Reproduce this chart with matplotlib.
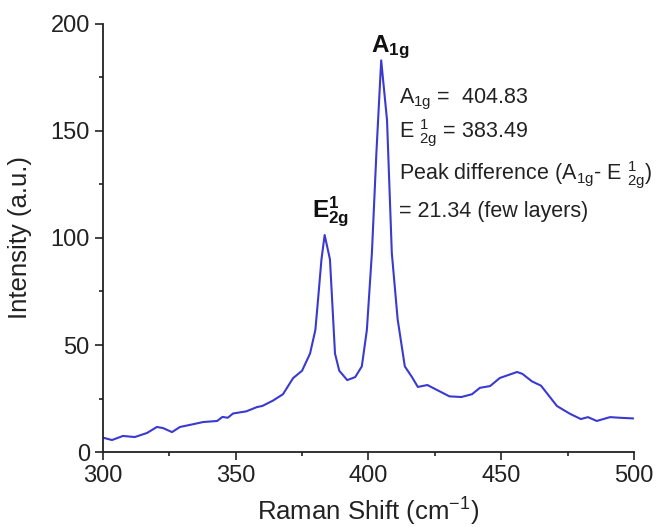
import numpy as np
import matplotlib
matplotlib.use("Agg")
import matplotlib.pyplot as plt
from matplotlib.ticker import MultipleLocator

plt.rcParams['font.family'] = ['Liberation Sans', 'DejaVu Sans']
plt.rcParams['mathtext.fontset'] = 'custom'
plt.rcParams['mathtext.rm'] = 'Liberation Sans'
plt.rcParams['mathtext.it'] = 'Liberation Sans:italic'
plt.rcParams['mathtext.bf'] = 'Liberation Sans:bold'
plt.rcParams['mathtext.default'] = 'regular'

# Raman spectrum
shift = [300.0, 303.4, 307.5, 312.0, 316.6, 320.3, 322.6, 326.0, 329.0, 334.0,
         337.7, 343.0, 345.0, 347.0, 349.0, 354.0, 358.0, 360.0, 364.0, 367.8,
         371.6, 375.0, 378.0, 380.0, 381.0, 382.3, 383.5, 385.5, 387.4, 389.0,
         392.0, 395.0, 397.5, 399.4, 401.3, 403.0, 404.8, 407.0, 408.8, 411.0,
         413.7, 416.4, 418.6, 422.2, 425.8, 430.5, 435.0, 439.0, 442.0, 445.8,
         449.5, 456.0, 458.0, 461.6, 465.0, 471.0, 473.0, 476.0, 480.0, 482.7,
         486.0, 491.0, 494.7, 499.6]
intensity = [6.7, 5.6, 7.5, 7.0, 8.9, 11.7, 11.2, 9.3, 11.7, 13.0,
             14.0, 14.5, 16.4, 16.0, 18.0, 19.0, 21.0, 21.5, 24.0, 27.0,
             34.5, 38.0, 46.0, 57.0, 71.0, 90.0, 101.4, 90.0, 46.0, 38.0,
             33.6, 35.0, 40.0, 57.0, 93.0, 140.0, 183.0, 155.0, 93.0, 62.0,
             40.0, 35.0, 30.4, 31.3, 29.0, 26.0, 25.7, 27.0, 30.0, 30.8,
             34.6, 37.4, 36.5, 33.0, 31.0, 21.5, 20.0, 17.8, 15.4, 16.3,
             14.5, 16.3, 16.0, 15.7]

peak_a1g = 404.83
peak_e2g = 383.49
peak_diff = 21.34

fig = plt.figure(figsize=(6.67, 5.27), dpi=100)
ax = fig.add_axes([0.1544, 0.1423, 0.796, 0.8122])

ax.plot(shift, intensity, color='#3a3ad0', lw=1.5)

ax.set_xlim(300, 500)
ax.set_ylim(0, 200)
ax.xaxis.set_major_locator(MultipleLocator(50))
ax.xaxis.set_minor_locator(MultipleLocator(25))
ax.yaxis.set_major_locator(MultipleLocator(50))
ax.yaxis.set_minor_locator(MultipleLocator(25))
ax.tick_params(which='major', direction='out', length=6, width=1.2,
               labelsize=17, colors='#222222')
ax.tick_params(which='minor', direction='out', length=3, width=1.2,
               colors='#222222')
for side in ['top', 'right']:
    ax.spines[side].set_visible(False)
for side in ['left', 'bottom']:
    ax.spines[side].set_linewidth(1.3)
    ax.spines[side].set_color('#222222')

ax.set_ylabel('Intensity (a.u.)', fontsize=18.5, color='#222222', labelpad=13)
ax.set_xlabel(r'Raman Shift (cm$^{-1}$)', fontsize=18.5,
              color='#222222', labelpad=6)

ax.text(401.0, 186.9, r'$\mathbf{A_{1g}}$', fontsize=17.5, ha='left',
        va='baseline', color='#111111')
ax.text(378.8, 109.8, r'$\mathbf{E^{1}_{2g}}$', fontsize=17.5, ha='left',
        va='baseline', color='#111111')

tx = 411.5
fs = 15.5
ax.text(tx, 163, r'A$_{1g}$ =  %.2f' % peak_a1g, fontsize=fs,
        va='baseline', color='#222222')
ax.text(tx, 146.7, r'E $^{1}_{2g}$ = %.2f' % peak_e2g, fontsize=fs,
        va='baseline', color='#222222')
ax.text(tx, 127.1, r'Peak difference (A$_{1g}$- E $^{1}_{2g}$)', fontsize=fs,
        va='baseline', color='#222222', clip_on=False)
ax.text(tx, 109.8, '= %.2f (few layers)' % peak_diff, fontsize=fs,
        va='baseline', color='#222222')

fig.savefig('out.png', dpi=100)
